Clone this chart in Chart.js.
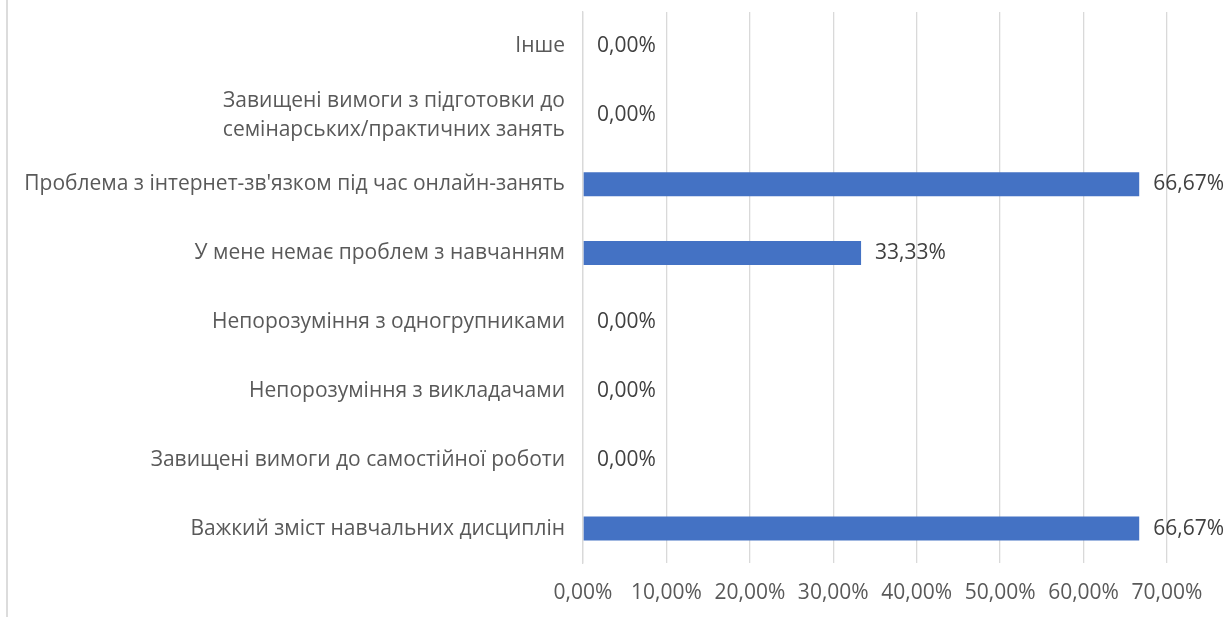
<!DOCTYPE html>
<html>
<head>
<meta charset="utf-8">
<script src="https://cdn.jsdelivr.net/npm/chart.js@4/dist/chart.umd.min.js"></script>
<style>
  html, body { margin: 0; padding: 0; background: #ffffff; }
  #wrap { position: relative; width: 1227px; height: 617px; }
  #edge { position: absolute; left: 6px; top: 0; width: 2px; height: 617px; background: #dcdcdc; }
  canvas { position: absolute; left: 0; top: 0; }
</style>
</head>
<body>
<div id="wrap">
  <div id="edge"></div>
  <canvas id="c" width="1227" height="617"></canvas>
</div>
<script>
const categories = [
  "Інше",
  ["Завищені вимоги з підготовки до", "семінарських/практичних занять"],
  "Проблема з інтернет-зв'язком під час онлайн-занять",
  "У мене немає проблем з навчанням",
  "Непорозуміння з одногрупниками",
  "Непорозуміння з викладачами",
  "Завищені вимоги до самостійної роботи",
  "Важкий зміст навчальних дисциплін"
];
const values = [0, 0, 66.67, 33.33, 0, 0, 0, 66.67];
const axisMin = 0;
const axisMax = 70;
const axisStep = 10;

const FONT = "'Open Sans', 'Noto Sans', sans-serif";
const FSIZE = 21;
const fmt = v => v.toFixed(2).replace('.', ',') + '%';

const labelPlugin = {
  id: 'barLabels',
  afterDatasetsDraw(chart) {
    const ctx = chart.ctx;
    const meta = chart.getDatasetMeta(0);
    ctx.save();
    ctx.font = FSIZE + "px " + FONT;
    ctx.fillStyle = '#404040';
    ctx.textAlign = 'left';
    ctx.textBaseline = 'middle';
    meta.data.forEach((bar, i) => {
      ctx.fillText(fmt(values[i]), bar.x + 14, bar.y);
    });
    ctx.restore();
  }
};

new Chart(document.getElementById('c'), {
  type: 'bar',
  data: {
    labels: categories,
    datasets: [{
      data: values,
      backgroundColor: '#4472C4',
      borderWidth: 0,
      barPercentage: 0.7,
      categoryPercentage: 0.5
    }]
  },
  options: {
    indexAxis: 'y',
    responsive: false,
    animation: false,
    layout: { padding: { top: 12, right: 60, bottom: 0, left: 0 } },
    plugins: { legend: { display: false }, tooltip: { enabled: false } },
    scales: {
      x: {
        min: axisMin,
        max: axisMax,
        ticks: {
          stepSize: axisStep,
          callback: v => fmt(v),
          color: '#595959',
          font: { family: FONT, size: FSIZE },
          padding: 17,
          maxRotation: 0
        },
        grid: { color: '#d9d9d9', lineWidth: 1.3, drawTicks: false },
        border: { display: false },
        afterFit: s => { s.height = 54; s.paddingLeft = 0; s.paddingRight = 0; }
      },
      y: {
        ticks: {
          color: '#595959',
          font: { family: FONT, size: FSIZE, lineHeight: 1.4 },
          padding: 18
        },
        grid: { display: false, drawTicks: false },
        border: { display: true, color: '#d9d9d9', width: 1.3 },
        afterFit: s => { s.width = 583; s.paddingTop = 0; s.paddingBottom = 0; }
      }
    }
  },
  plugins: [labelPlugin]
});
</script>
</body>
</html>
